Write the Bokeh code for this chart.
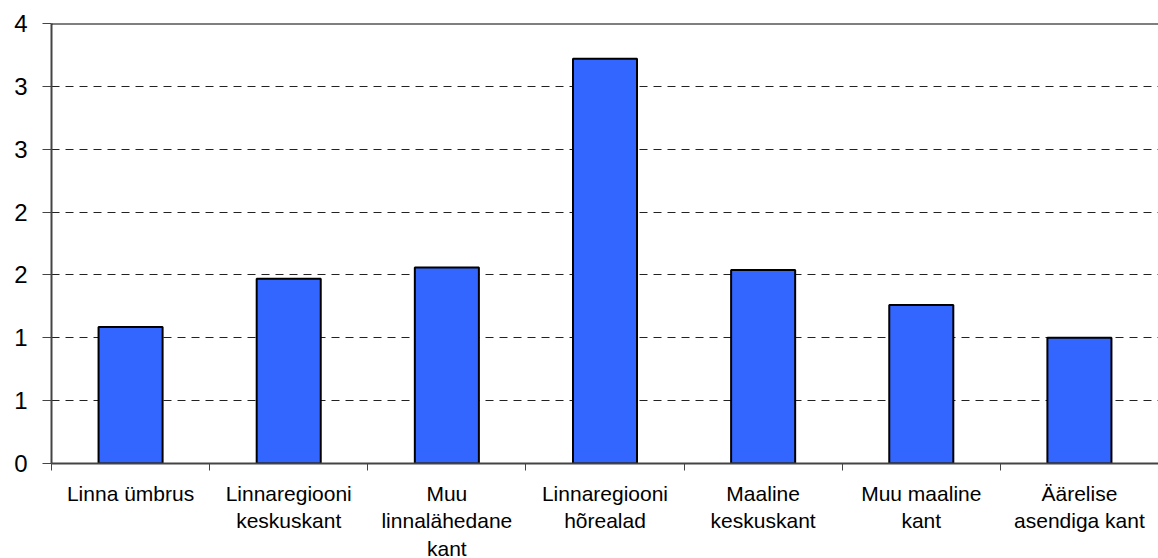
from bokeh.plotting import figure
from bokeh.models import Range1d, FixedTicker, Span, ColumnDataSource
from bokeh.embed import file_html
from bokeh.resources import INLINE

categories = ["Linna ümbrus", "Linnaregiooni\nkeskuskant", "Muu\nlinnalähedane\nkant",
              "Linnaregiooni\nhõrealad", "Maaline\nkeskuskant", "Muu maaline\nkant",
              "Äärelise\nasendiga kant"]
values = [1.085, 1.47, 1.56, 3.22, 1.54, 1.26, 1.0]
y_ticks = [0, 0.5, 1.0, 1.5, 2.0, 2.5, 3.0, 3.5]
y_labels = ["0", "1", "1", "2", "2", "3", "3", "4"]

n = len(categories)
centers = [i + 0.5 for i in range(n)]
bounds = [float(i) for i in range(n + 1)]

src = ColumnDataSource(dict(x=centers, top=values))

p = figure(frame_width=1107, frame_height=440, x_range=Range1d(0, 7.0),
           y_range=Range1d(0, 3.5), output_backend="svg", toolbar_location=None,
           min_border_left=51, min_border_right=0, min_border_top=23, min_border_bottom=94)
p.outline_line_color = None
p.background_fill_color = "white"

p.vbar(x="x", top="top", width=0.405, source=src, fill_color="#3366FF",
       line_color="black", line_width=2)

# x axis
p.xaxis.ticker = FixedTicker(ticks=centers, minor_ticks=bounds)
p.xaxis.major_label_overrides = {c: lab for c, lab in zip(centers, categories)}
p.xaxis.major_tick_out = 0
p.xaxis.major_tick_in = 0
p.xaxis.minor_tick_out = 7
p.xaxis.minor_tick_in = 0
p.xaxis.minor_tick_line_color = "#444444"
p.xaxis.axis_line_color = "#444444"
p.xaxis.axis_line_width = 2
p.xaxis.major_label_text_font = "Liberation Sans"
p.xaxis.major_label_text_font_size = "21px"
p.xaxis.major_label_text_color = "black"
p.xaxis.major_label_standoff = 11
p.xaxis.major_label_text_align = "center"

# y axis
p.yaxis.ticker = FixedTicker(ticks=y_ticks, minor_ticks=[])
p.yaxis.major_label_overrides = {t: l for t, l in zip(y_ticks, y_labels)}
p.yaxis.major_tick_out = 9
p.yaxis.major_tick_in = 0
p.yaxis.major_tick_line_color = "#444444"
p.yaxis.axis_line_color = "#444444"
p.yaxis.axis_line_width = 2
p.yaxis.major_label_text_font = "Liberation Sans"
p.yaxis.major_label_text_font_size = "24px"
p.yaxis.major_label_text_color = "black"
p.yaxis.major_label_standoff = 15

p.xgrid.grid_line_color = None
p.ygrid.ticker = FixedTicker(ticks=y_ticks[1:-1])
p.ygrid.grid_line_color = "#222222"
p.ygrid.grid_line_dash = "8 6"
p.ygrid.grid_line_width = 1
p.ygrid.level = "underlay"

p.add_layout(Span(location=y_ticks[-1], dimension="width", line_color="black", line_width=2))

open("out.html", "w").write(file_html(p, INLINE))
